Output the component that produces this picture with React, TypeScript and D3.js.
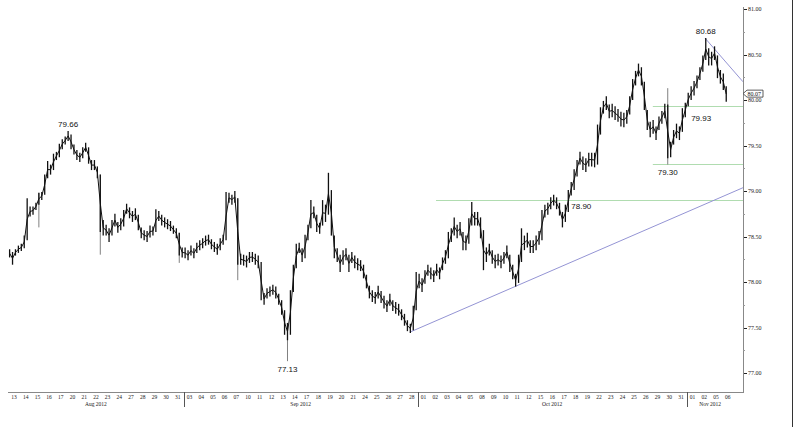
import React from "react";
import * as d3 from "d3";

const tradingDays = [
  "2012-08-13","2012-08-14","2012-08-15","2012-08-16","2012-08-17",
  "2012-08-20","2012-08-21","2012-08-22","2012-08-23","2012-08-24",
  "2012-08-27","2012-08-28","2012-08-29","2012-08-30","2012-08-31",
  "2012-09-03","2012-09-04","2012-09-05","2012-09-06","2012-09-07",
  "2012-09-10","2012-09-11","2012-09-12","2012-09-13","2012-09-14",
  "2012-09-17","2012-09-18","2012-09-19","2012-09-20","2012-09-21",
  "2012-09-24","2012-09-25","2012-09-26","2012-09-27","2012-09-28",
  "2012-10-01","2012-10-02","2012-10-03","2012-10-04","2012-10-05",
  "2012-10-08","2012-10-09","2012-10-10","2012-10-11","2012-10-12",
  "2012-10-15","2012-10-16","2012-10-17","2012-10-18","2012-10-19",
  "2012-10-22","2012-10-23","2012-10-24","2012-10-25","2012-10-26",
  "2012-10-29","2012-10-30","2012-10-31",
  "2012-11-01","2012-11-02","2012-11-05","2012-11-06",
];

const barsPerDay = 4;

// quarter-day bars: highs
const barHighs = [
  78.36,78.33,78.36,78.40, 78.42,78.51,78.92,78.83, 78.83,78.87,78.98,78.99, 79.18,79.33,79.29,79.41,
  79.43,79.52,79.57,79.60, 79.66,79.62,79.51,79.45, 79.42,79.48,79.53,79.48, 79.34,79.34,79.27,79.18,
  78.68,78.63,78.59,78.68, 78.75,78.66,78.70,78.79, 78.86,78.82,78.78,78.81, 78.74,78.60,78.57,78.56,
  78.62,78.61,78.80,78.78, 78.74,78.71,78.69,78.67, 78.62,78.59,78.54,78.38, 78.38,78.35,78.40,78.37,
  78.43,78.46,78.48,78.51, 78.52,78.47,78.44,78.42, 78.48,78.52,78.99,78.98, 78.96,79.00,78.92,78.31,
  78.30,78.29,78.33,78.33, 78.31,78.29,78.22,77.88, 77.93,77.95,77.97,77.95, 77.87,77.80,77.69,77.55,
  77.91,78.19,78.42,78.43, 78.37,78.52,78.63,78.90, 78.83,78.74,78.65,78.90, 78.85,79.20,79.01,78.51,
  78.37,78.30,78.35,78.37, 78.30,78.33,78.29,78.26, 78.24,78.19,78.08,77.96, 77.91,77.89,77.96,77.90,
  77.85,77.80,77.87,77.80, 77.78,77.76,77.70,77.65, 77.58,77.54,77.74,78.11, 78.09,78.04,78.13,78.19,
  78.16,78.13,78.20,78.16, 78.27,78.35,78.55,78.59, 78.71,78.63,78.66,78.55, 78.51,78.70,78.88,78.77,
  78.77,78.71,78.57,78.38, 78.42,78.35,78.30,78.31, 78.29,78.33,78.40,78.30, 78.19,78.09,78.30,78.59,
  78.51,78.54,78.46,78.46, 78.51,78.56,78.79,78.85, 78.87,78.93,78.96,78.93, 78.87,78.77,78.85,79.01,
  79.10,79.24,79.34,79.43, 79.38,79.36,79.42,79.42, 79.42,79.73,79.92,79.99, 80.04,79.95,79.96,79.93,
  79.90,79.87,79.86,79.89, 80.04,80.23,80.32,80.40, 80.36,80.20,79.89,79.76, 79.78,79.71,79.82,79.88,
  79.96,79.95,79.54,79.67, 79.74,79.71,79.91,79.97, 80.08,80.15,80.21,80.27, 80.36,80.49,80.68,80.57,
  80.53,80.59,80.49,80.33, 80.29,80.15,
];

// quarter-day bars: lows
const barLows = [
  78.27,78.19,78.29,78.32, 78.34,78.37,78.46,78.72, 78.74,78.79,78.85,78.90, 78.96,79.14,79.18,79.23,
  79.34,79.37,79.46,79.51, 79.55,79.46,79.40,79.34, 79.32,79.36,79.43,79.30, 79.23,79.23,79.14,78.55,
  78.51,78.51,78.44,78.51, 78.61,78.54,78.57,78.61, 78.75,78.70,78.66,78.68, 78.57,78.48,78.46,78.44,
  78.49,78.51,78.55,78.67, 78.62,78.60,78.58,78.56, 78.53,78.48,78.29,78.27, 78.26,78.24,78.29,78.26,
  78.32,78.35,78.37,78.40, 78.41,78.36,78.33,78.30, 78.35,78.41,78.46,78.87, 78.85,78.87,78.19,78.19,
  78.18,78.16,78.21,78.22, 78.19,78.15,77.80,77.75, 77.82,77.84,77.86,77.82, 77.75,77.64,77.42,77.36,
  77.42,77.89,78.15,78.32, 78.22,78.26,78.46,78.59, 78.70,78.55,78.53,78.62, 78.66,78.74,78.51,78.26,
  78.22,78.11,78.19,78.24, 78.11,78.21,78.15,78.13, 78.12,78.04,77.93,77.82, 77.78,77.76,77.82,77.77,
  77.71,77.67,77.74,77.68, 77.65,77.63,77.58,77.52, 77.46,77.44,77.47,77.69, 77.93,77.89,77.98,78.07,
  78.03,78.00,78.07,78.03, 78.13,78.20,78.26,78.44, 78.51,78.48,78.51,78.35, 78.35,78.42,78.62,78.62,
  78.62,78.48,78.13,78.22, 78.29,78.20,78.15,78.18, 78.15,78.20,78.26,78.11, 78.03,77.95,77.99,78.22,
  78.35,78.38,78.32,78.32, 78.35,78.41,78.46,78.71, 78.74,78.80,78.84,78.80, 78.73,78.60,78.66,78.77,
  78.95,79.01,79.16,79.29, 79.23,79.21,79.27,79.27, 79.26,79.29,79.62,79.85, 79.89,79.80,79.81,79.78,
  79.76,79.71,79.70,79.74, 79.84,80.00,80.16,80.26, 80.16,79.89,79.67,79.59, 79.63,79.56,79.67,79.74,
  79.80,79.36,79.37,79.51, 79.58,79.56,79.65,79.81, 79.93,80.00,80.05,80.13, 80.22,80.31,80.44,80.38,
  80.38,80.44,80.24,80.18, 80.11,79.98,
];

// long thin wicks
const spikeBars = [10, 31, 58, 78, 95, 225];
const spikeLows = [78.60, 78.30, 78.21, 78.02, 77.13, 79.29];
const spikeHighs = [78.98, 79.18, 78.54, 78.92, 77.55, 80.13];

const lastPrice = 80.07;

const yTicks = [77.0, 77.5, 78.0, 78.5, 79.0, 79.5, 80.0, 80.5, 81.0];
const yMinorTicks = [77.25, 77.75, 78.25, 78.75, 79.25, 79.75, 80.25, 80.75];

// horizontal support / resistance levels: [value, start day]
const levelValues = [78.9, 79.93, 79.3];
const levelStartDays = [36.57, 55.1, 55.1];

// trend lines: anchor points [day, value]
const upTrend = [[34.35, 77.45], [43.32, 77.95]];
const downTrend = [[59.56, 80.68], [62.81, 80.2]];

// annotations
const noteLabels = ["79.66", "77.13", "78.90", "79.30", "79.93", "80.68"];
const noteBars = [20, 95, 191, 225, 233, 238];
const noteValues = [79.66, 77.13, 78.9, 79.3, 79.93, 80.68];
const notePlacement = ["above", "below", "rightBelow", "below", "rightBelowFar", "above"];

const W = 808;
const H = 427;
const axisX = 743;
const axisBottom = 392;

export default function App() {
  const x = d3.scaleLinear().domain([0, tradingDays.length]).range([8.15, 733.55]);
  const y = d3.scaleLinear().domain([77, 81]).range([373, 9]);
  const parse = d3.timeParse("%Y-%m-%d");
  const dates = tradingDays.map((s) => parse(s) as Date);
  const fmtDay = d3.timeFormat("%d");
  const fmtMonth = d3.timeFormat("%b %Y");

  const barX = (k: number) => x((k + 0.5) / barsPerDay);

  const months = d3.groups(
    dates.map((d, i) => ({ d, i })),
    (o) => fmtMonth(o.d)
  );

  const mids = barHighs.map((h, k) => (h + barLows[k]) / 2);
  const midLine = d3
    .line<number>()
    .x((_, k) => barX(k))
    .y((v) => y(v));

  const xEndDay = x.invert(axisX);
  const trendEnd = (t: number[][]) => {
    const slope = (t[1][1] - t[0][1]) / (t[1][0] - t[0][0]);
    return t[0][1] + slope * (xEndDay - t[0][0]);
  };

  const labelFont = "'Liberation Serif', serif";
  const noteFont = "'Liberation Sans', Arial, sans-serif";

  return (
    <div style={{ position: "absolute", left: 0, top: 0 }}>
      <svg width={W} height={H} style={{ display: "block", background: "#fff" }}>
        {/* right border */}
        <line x1={792.5} x2={792.5} y1={0} y2={H} stroke="#333" strokeWidth={1} />

        {/* levels */}
        {levelValues.map((v, i) => (
          <line
            key={"lv" + i}
            x1={x(levelStartDays[i])}
            x2={axisX}
            y1={Math.round(y(v)) + 0.5}
            y2={Math.round(y(v)) + 0.5}
            stroke="#b0dcb0"
            strokeWidth={1}
          />
        ))}

        {/* trend lines */}
        {[upTrend, downTrend].map((t, i) => (
          <line
            key={"tr" + i}
            x1={x(t[0][0])}
            y1={y(t[0][1])}
            x2={axisX}
            y2={y(trendEnd(t))}
            stroke="#9494d4"
            strokeWidth={1}
          />
        ))}

        {/* spikes */}
        {spikeBars.map((k, i) => (
          <line
            key={"sp" + i}
            x1={barX(k)}
            x2={barX(k)}
            y1={y(spikeHighs[i])}
            y2={y(spikeLows[i])}
            stroke="#808080"
            strokeWidth={1}
          />
        ))}

        {/* price bars */}
        <g>
          {barHighs.map((h, k) => (
            <line
              key={"b" + k}
              x1={barX(k)}
              x2={barX(k)}
              y1={y(h)}
              y2={y(barLows[k])}
              stroke="#111"
              strokeWidth={1.3}
            />
          ))}
          <path d={midLine(mids) || ""} fill="none" stroke="#111" strokeWidth={1} />
        </g>

        {/* annotations */}
        {noteLabels.map((t, i) => {
          const bx = barX(noteBars[i]);
          const vy = y(noteValues[i]);
          const p = notePlacement[i];
          let tx = bx;
          let ty = vy;
          let anchor = "middle";
          if (p === "above") ty = vy - 4;
          else if (p === "below") ty = vy + 11;
          else if (p === "rightBelow") {
            tx = bx + 3;
            ty = vy + 9;
            anchor = "start";
          } else if (p === "rightBelowFar") {
            tx = bx;
            ty = vy + 15;
            anchor = "start";
          }
          return (
            <text
              key={"n" + i}
              x={tx}
              y={ty}
              textAnchor={anchor}
              fontFamily={noteFont}
              fontSize={8}
              fill="#111"
            >
              {t}
            </text>
          );
        })}

        {/* right axis */}
        <line x1={axisX + 0.5} x2={axisX + 0.5} y1={7} y2={axisBottom} stroke="#888" strokeWidth={1} />
        {yMinorTicks.map((v) => (
          <line
            key={"mt" + v}
            x1={axisX}
            x2={axisX + 2}
            y1={Math.round(y(v)) + 0.5}
            y2={Math.round(y(v)) + 0.5}
            stroke="#999"
          />
        ))}
        {yTicks.map((v) => (
          <g key={"yt" + v}>
            <line
              x1={axisX + 1}
              x2={axisX + 4}
              y1={Math.round(y(v)) + 0.5}
              y2={Math.round(y(v)) + 0.5}
              stroke="#222"
            />
            <text
              x={axisX + 5}
              y={y(v) + 2}
              fontFamily={labelFont}
              fontSize={6}
              fill="#222"
            >
              {d3.format(".2f")(v)}
            </text>
          </g>
        ))}
        {/* last price flag */}
        <g>
          <path
            d={`M${axisX},${y(lastPrice)} L${axisX + 4},${y(lastPrice) - 3.5} L${axisX + 20},${y(lastPrice) - 3.5} L${axisX + 20},${y(lastPrice) + 3.5} L${axisX + 4},${y(lastPrice) + 3.5} Z`}
            fill="#fff"
            stroke="#333"
            strokeWidth={0.8}
          />
          <text x={axisX + 4.5} y={y(lastPrice) + 2} fontFamily={labelFont} fontSize={6} fill="#111">
            {d3.format(".2f")(lastPrice)}
          </text>
        </g>

        {/* bottom axis */}
        <line x1={8} x2={axisX + 1} y1={axisBottom + 0.5} y2={axisBottom + 0.5} stroke="#888" strokeWidth={1} />
        {dates.map((d, i) => (
          <text
            key={"dl" + i}
            x={x(i + 0.5)}
            y={axisBottom + 7}
            textAnchor="middle"
            fontFamily={labelFont}
            fontSize={5.5}
            fill="#222"
          >
            {fmtDay(d)}
          </text>
        ))}
        {months.map(([name, items], mi) => {
          const first = items[0].i;
          const last = items[items.length - 1].i;
          return (
            <g key={"m" + name}>
              {mi > 0 && (
                <line
                  x1={Math.round(x(first)) + 0.5}
                  x2={Math.round(x(first)) + 0.5}
                  y1={axisBottom}
                  y2={axisBottom + 15}
                  stroke="#555"
                />
              )}
              <text
                x={(x(first + 0.5) + x(last + 0.5)) / 2}
                y={axisBottom + 14}
                textAnchor="middle"
                fontFamily={labelFont}
                fontSize={5.5}
                fill="#222"
              >
                {name}
              </text>
            </g>
          );
        })}
      </svg>
    </div>
  );
}
